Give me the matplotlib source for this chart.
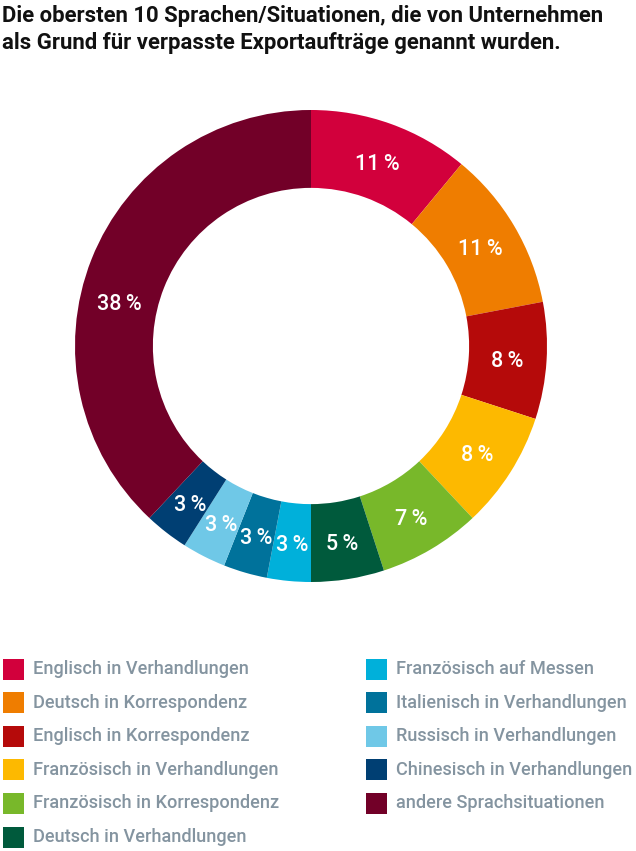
import numpy as np
import matplotlib
matplotlib.use("Agg")
import matplotlib.pyplot as plt
from matplotlib.patches import Rectangle

# ── Data ──────────────────────────────────────────────────────────────────────
CATEGORIES = [
    "Englisch in Verhandlungen",
    "Deutsch in Korrespondenz",
    "Englisch in Korrespondenz",
    "Französisch in Verhandlungen",
    "Französisch in Korrespondenz",
    "Deutsch in Verhandlungen",
    "Französisch auf Messen",
    "Italienisch in Verhandlungen",
    "Russisch in Verhandlungen",
    "Chinesisch in Verhandlungen",
    "andere Sprachsituationen",
]
SHARES = [11, 11, 8, 8, 7, 5, 3, 3, 3, 3, 38]

TITLE = ("Die obersten 10 Sprachen/Situationen, die von Unternehmen\n"
         "als Grund für verpasste Exportaufträge genannt wurden.")

# ── Style ─────────────────────────────────────────────────────────────────────
COLORS = [
    "#D2003C",   # crimson
    "#EF7D00",   # orange
    "#B50A0A",   # dark red
    "#FDB900",   # yellow
    "#78B82A",   # green
    "#005A3C",   # dark green
    "#00B0DA",   # cyan
    "#00729B",   # petrol
    "#6FC8E7",   # light blue
    "#003F73",   # navy
    "#720028",   # bordeaux
]
LEGEND_GREY = "#8494A0"
FONT = "Roboto"
W, H = 636, 851
CX, CY, R = 311, 346, 236      # donut centre / radius in pixels
RING = 0.33                     # ring width relative to radius
LABEL_SHIFT = {10: -8.5}        # angle nudge (deg) for crowded labels

plt.rcParams["font.family"] = [FONT, "DejaVu Sans"]

fig = plt.figure(figsize=(W / 100, H / 100), dpi=100)

# ── Donut ─────────────────────────────────────────────────────────────────────
ax = fig.add_axes([(CX - R) / W, (H - CY - R) / H, 2 * R / W, 2 * R / H])
ax.pie(SHARES, colors=COLORS, startangle=90, counterclock=False, radius=1,
       wedgeprops=dict(width=RING, linewidth=0))
ax.set_xlim(-1, 1)
ax.set_ylim(-1, 1)
ax.set_aspect("equal")
ax.axis("off")

total = sum(SHARES)
cum = np.cumsum([0] + SHARES[:-1])
r_lab = 1 - RING / 2
for i, (c, v) in enumerate(zip(cum, SHARES)):
    ang = np.deg2rad((c + v / 2) / total * 360 + LABEL_SHIFT.get(i, 0))
    ax.text(r_lab * np.sin(ang), r_lab * np.cos(ang) - 0.015, f"{v}\u2009%",
            ha="center", va="center", color="white", fontsize=15.5,
            fontweight="medium")

# ── Title + legend (overlay in pixel coords) ──────────────────────────────────
ov = fig.add_axes([0, 0, 1, 1], zorder=-1)
ov.set_xlim(0, W)
ov.set_ylim(H, 0)
ov.axis("off")

ov.text(2, 5, TITLE, ha="left", va="top", fontsize=15.9, fontweight="bold",
        color="#111111", linespacing=1.27)

n_rows = 6
for i, (lab, col) in enumerate(zip(CATEGORIES, COLORS)):
    colx = [3, 366][i // n_rows]
    yc = 669 + (i % n_rows) * 33.6
    ov.add_patch(Rectangle((colx, yc - 10.5), 21, 21, color=col, lw=0))
    ov.text(colx + 30, yc, lab, ha="left", va="center", fontsize=13.1,
            color=LEGEND_GREY, fontweight="medium")

fig.savefig("out.png", dpi=100)
